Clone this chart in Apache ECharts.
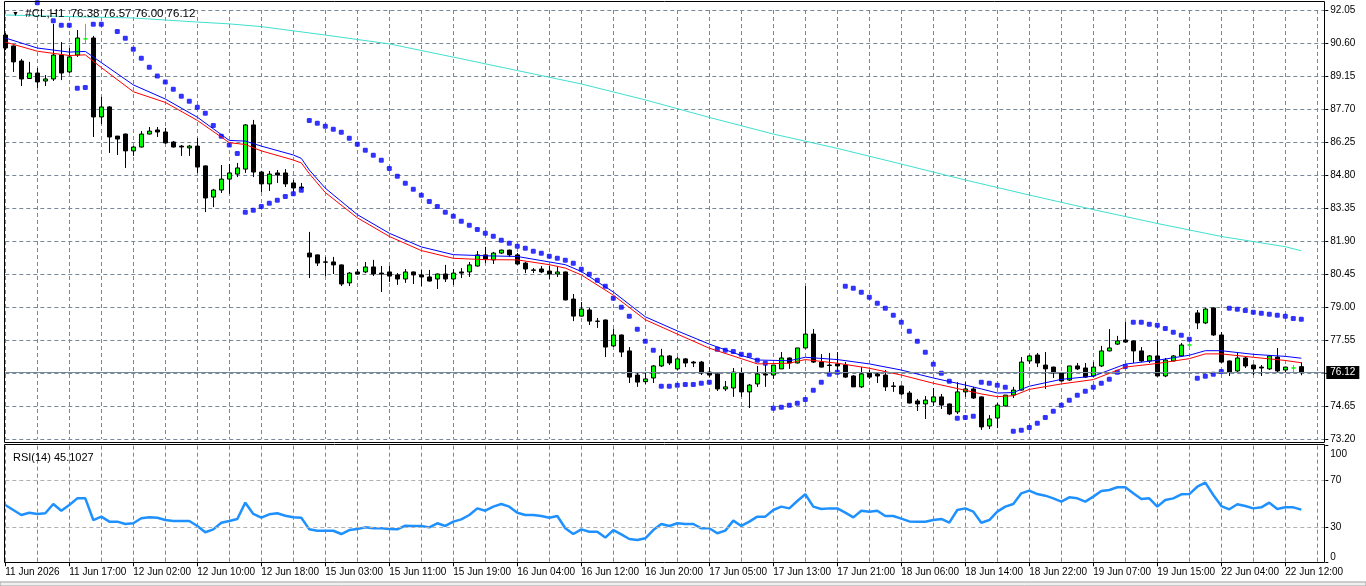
<!DOCTYPE html>
<html>
<head>
<meta charset="utf-8">
<title>#CL,H1</title>
<script src="https://cdn.jsdelivr.net/npm/echarts@6/dist/echarts.min.js"></script>
<style>
  html, body { margin: 0; padding: 0; background: #fff; }
  #chart-container { width: 1366px; height: 586px; }
</style>
</head>
<body>
<div id="chart-container"></div>
<script>
var myChart = echarts.init(document.getElementById('chart-container'), null, { renderer: 'canvas' });

// --- H1 bars, 11 Jun 2026 .. 22 Jun 2026 ---
const opens = [
  90.95,90.47,89.81,89.04,89.28,88.93,89.02,90.07,89.33,90.07,
  90.78,90.82,87.35,87.79,86.51,86.60,85.86,86.03,86.60,86.78,
  86.69,86.25,86.07,85.99,86.07,85.20,83.83,84.14,84.62,84.84,
  85.06,87.00,84.93,84.41,84.89,84.89,84.45,84.27,81.37,81.29,
  80.98,80.98,80.85,80.06,80.54,80.54,80.76,80.49,80.54,80.41,
  80.23,80.54,80.41,80.32,80.23,80.45,80.23,80.54,80.54,80.80,
  81.29,81.07,81.37,81.50,81.29,80.93,80.63,80.67,80.58,80.45,
  80.54,79.35,78.60,78.87,78.38,78.43,77.29,77.77,77.07,76.01,
  75.72,75.88,76.41,76.85,76.28,76.72,76.58,76.58,76.14,76.06,
  75.40,75.44,76.10,75.27,75.62,76.06,76.01,76.28,76.76,76.54,
  77.20,77.81,76.58,76.45,76.50,76.45,75.97,75.49,76.10,76.06,
  76.01,75.53,75.53,75.22,74.87,74.74,74.83,75.05,74.74,74.39,
  75.27,75.40,75.05,73.77,74.12,74.65,75.13,75.35,76.63,76.89,
  76.45,76.36,76.10,75.79,76.41,76.32,75.97,76.41,77.07,77.37,
  77.55,77.51,77.07,76.63,76.85,75.97,76.63,76.85,77.33,78.74,
  78.30,78.96,77.77,76.63,76.19,76.76,76.45,76.36,76.28,76.80,
  76.23,76.32,76.38
];
const highs = [
  91.04,90.49,89.90,89.77,89.50,89.19,91.44,90.64,90.38,91.17,
  91.44,90.91,88.23,87.83,86.51,86.62,86.07,86.73,86.91,86.91,
  86.87,86.29,86.12,86.12,86.43,85.22,84.19,85.24,85.28,85.33,
  87.04,87.22,84.98,84.98,85.02,85.06,84.58,84.45,82.30,81.31,
  81.20,81.20,80.87,80.54,80.67,80.98,81.07,80.80,80.80,80.49,
  80.67,80.56,80.63,80.63,80.47,80.85,80.67,80.71,80.98,81.46,
  81.64,81.42,81.52,81.52,81.37,80.98,80.71,80.80,80.80,80.76,
  80.56,79.57,79.22,78.96,78.52,78.45,78.03,77.79,77.24,76.14,
  76.10,76.45,77.16,76.89,76.80,76.76,76.63,76.63,76.36,76.08,
  75.75,76.32,76.32,75.62,76.41,76.45,76.45,77.02,76.78,77.20,
  79.92,78.03,76.93,76.98,77.02,76.58,76.01,76.36,76.23,76.10,
  76.23,75.70,75.55,75.31,74.96,75.09,75.44,75.18,74.76,75.70,
  75.70,75.49,75.07,74.25,74.78,75.13,75.49,76.80,76.89,76.98,
  77.02,76.38,76.12,76.41,76.54,76.54,76.58,77.29,78.03,77.73,
  78.34,77.53,77.24,76.89,77.51,76.76,76.89,77.42,77.46,78.87,
  78.96,78.98,77.90,76.65,76.98,76.80,76.47,76.45,76.89,77.20,
  76.38,76.45,76.57
];
const lows = [
  90.29,89.33,88.71,89.02,88.62,88.71,88.93,88.97,89.28,89.99,
  90.60,86.47,87.04,85.77,85.68,85.11,85.64,86.01,86.58,86.47,
  86.16,86.01,85.64,85.64,84.89,83.17,83.39,84.01,83.97,84.71,
  84.89,84.71,84.05,84.10,84.45,84.27,84.05,84.14,80.27,80.80,
  80.36,80.45,79.92,79.92,80.43,80.49,80.36,79.66,80.10,79.97,
  80.06,80.01,79.92,80.12,79.79,80.10,79.97,80.27,80.32,80.78,
  80.93,80.89,81.33,81.20,80.85,80.49,80.49,80.49,80.23,80.32,
  79.29,78.38,78.58,78.21,78.08,76.80,77.24,76.80,75.66,75.49,
  75.62,75.66,76.36,76.45,76.23,76.36,76.36,76.01,75.92,75.31,
  75.31,75.05,75.05,74.56,75.49,75.49,75.84,76.28,76.28,76.52,
  77.18,76.54,76.34,76.14,76.10,75.88,75.49,75.44,75.84,75.66,
  75.31,75.27,75.13,74.76,74.43,74.08,74.65,74.52,74.25,74.30,
  75.05,74.96,73.60,73.64,73.68,74.63,75.00,75.33,76.50,76.36,
  75.40,75.88,75.73,75.75,76.23,75.88,75.92,76.36,77.05,77.33,
  77.42,76.54,76.58,76.54,75.94,75.92,76.61,76.80,77.16,78.03,
  78.25,77.73,76.54,75.97,76.14,76.32,76.01,75.97,76.23,76.10,
  76.14,76.14,76.00
];
const closes = [
  90.38,89.77,89.02,89.28,88.89,89.02,90.07,89.28,89.99,90.82,
  90.78,87.35,87.79,86.47,86.38,85.86,86.03,86.60,86.73,86.69,
  86.21,86.03,86.03,86.07,85.15,83.79,84.14,84.62,84.89,85.11,
  87.00,84.93,84.41,84.84,84.80,84.41,84.23,84.23,81.20,80.93,
  80.97,80.85,80.01,80.49,80.45,80.76,80.45,80.45,80.36,80.23,
  80.54,80.41,80.32,80.14,80.45,80.23,80.49,80.49,80.85,81.29,
  81.11,81.37,81.50,81.29,80.89,80.67,80.61,80.54,80.45,80.54,
  79.31,78.60,78.91,78.38,78.37,77.24,77.77,77.02,75.92,75.70,
  75.84,76.41,76.85,76.54,76.72,76.54,76.54,76.10,76.01,75.40,
  75.49,76.14,75.27,75.57,76.06,76.01,76.45,76.76,76.54,77.20,
  77.81,76.58,76.36,76.43,76.41,75.92,75.49,76.06,75.92,75.97,
  75.49,75.51,75.18,74.78,74.74,74.91,75.05,74.69,74.30,75.27,
  75.40,75.00,73.73,74.08,74.69,75.13,75.35,76.58,76.85,76.54,
  76.28,76.10,75.75,76.41,76.28,75.92,76.36,77.07,77.20,77.51,
  77.46,77.07,76.63,76.85,75.97,76.67,76.85,77.33,77.33,78.30,
  78.91,77.77,76.58,76.14,76.76,76.41,76.28,76.32,76.85,76.19,
  76.36,76.32,76.12
];

// Parabolic SAR, one per bar (null = not visible)
const sar = [
  null,null,null,null,92.37,null,91.58,91.38,91.38,88.61,
  88.65,91.42,91.42,null,91.11,90.81,90.32,89.93,89.53,89.15,
  88.89,88.57,88.26,88.04,87.78,87.51,86.98,86.50,86.12,85.75,
  83.16,83.25,83.42,83.56,83.69,83.86,83.98,84.13,87.20,87.07,
  86.94,86.81,86.68,86.41,86.15,85.89,85.67,85.45,85.09,84.74,
  84.44,84.17,83.91,83.64,83.42,83.16,82.99,82.77,82.59,82.41,
  82.24,82.11,81.93,81.80,81.67,81.58,81.45,81.36,81.23,81.14,
  81.05,80.92,80.66,80.44,80.17,79.91,79.38,78.99,78.59,78.02,
  77.49,77.10,75.52,75.52,75.56,75.60,75.60,75.65,75.69,77.14,
  77.10,77.05,76.92,76.88,76.66,76.53,74.55,74.59,74.68,74.77,
  74.94,75.34,75.69,76.04,76.13,79.91,79.82,79.65,79.43,79.16,
  78.94,78.64,78.33,77.93,77.49,77.01,76.48,76.09,75.74,74.11,
  74.15,74.20,75.69,75.65,75.56,75.47,73.54,73.58,73.71,73.89,
  74.15,74.42,74.68,74.90,75.12,75.30,75.47,75.65,75.82,76.13,
  76.39,78.33,78.33,78.24,78.20,78.06,77.89,77.76,77.58,75.87,
  75.96,76.04,76.17,78.94,78.90,78.85,78.77,78.72,78.68,78.64,
  78.59,78.50,78.46
];

// moving averages, read at [bar, value]
const maBlue = [
  [0,90.82],[4,90.38],[8,90.20],[10,90.23],[12,89.74],[16,88.76],[20,88.14],[24,87.34],
  [28,86.32],[30,86.29],[32,86.07],[36,85.68],[37,85.53],[38,85.02],[40,84.22],[44,83.06],
  [48,82.24],[52,81.64],[56,81.30],[60,81.25],[64,81.22],[68,80.98],[70,80.86],[72,80.56],
  [76,79.66],[80,78.57],[84,77.95],[88,77.37],[92,76.87],[94,76.67],[98,76.64],[100,76.79],
  [104,76.69],[108,76.50],[112,76.23],[116,75.88],[120,75.57],[122,75.40],[124,75.22],[126,75.24],
  [128,75.52],[132,75.82],[136,75.96],[140,76.49],[144,76.66],[148,76.88],[150,77.08],[152,77.08],
  [156,76.92],[160,76.83],[162,76.75]
];
const maRed = [
  [0,90.64],[4,90.24],[8,90.05],[10,90.08],[12,89.52],[16,88.46],[20,87.99],[24,87.20],
  [28,86.22],[30,86.14],[32,85.86],[36,85.46],[37,85.33],[38,84.86],[40,84.03],[44,82.92],
  [48,82.10],[52,81.48],[56,81.14],[60,81.08],[64,81.07],[68,80.86],[70,80.71],[72,80.41],
  [76,79.52],[80,78.44],[84,77.81],[88,77.19],[92,76.73],[94,76.50],[98,76.53],[100,76.69],
  [104,76.53],[108,76.31],[112,76.01],[116,75.65],[120,75.34],[122,75.18],[124,75.06],[126,75.10],
  [128,75.38],[132,75.62],[136,75.81],[140,76.36],[144,76.52],[148,76.73],[150,76.94],[152,76.94],
  [156,76.79],[160,76.65],[162,76.55]
];
const maSlow = [
  [0,91.83],[8,91.76],[16,91.70],[24,91.52],[28,91.44],[32,91.32],[40,90.95],[48,90.56],
  [56,89.98],[64,89.39],[72,88.80],[80,88.10],[88,87.33],[96,86.60],[104,85.97],[112,85.28],
  [120,84.58],[128,83.92],[136,83.28],[144,82.67],[152,82.10],[160,81.65],[162,81.47]
];

// RSI(14)
const rsi = [
  49.1,44.8,40.5,42.5,41.4,42.0,50.0,44.2,49.1,54.8,
  54.8,36.2,39.1,34.8,34.8,32.8,33.4,37.7,38.5,38.2,
  36.2,35.4,35.4,35.4,31.1,25.7,28.2,33.9,35.4,37.1,
  51.1,41.4,38.2,41.1,42.0,39.9,38.5,38.2,28.2,27.0,
  27.0,27.0,24.2,27.6,28.5,29.9,29.1,29.1,28.5,28.2,
  31.3,31.1,31.1,29.9,33.4,31.1,34.8,36.8,40.5,46.2,
  44.2,47.7,50.0,47.7,42.5,40.5,40.5,39.7,38.2,39.7,
  29.1,24.2,28.2,26.2,26.2,21.1,27.6,23.9,19.9,19.1,
  20.5,27.6,32.8,31.1,33.4,32.8,32.8,29.1,29.1,24.8,
  27.1,35.7,31.1,34.8,39.1,39.1,44.8,47.7,46.2,52.5,
  58.3,47.7,45.7,46.2,46.2,42.5,38.5,44.2,43.4,44.2,
  39.7,39.7,37.4,35.0,34.8,34.8,36.2,37.1,33.9,44.8,
  46.2,43.4,33.9,36.2,43.4,47.7,50.0,59.1,61.4,58.5,
  57.1,54.8,52.0,55.7,54.8,52.0,56.3,61.1,62.0,64.3,
  64.3,59.1,54.2,54.8,47.7,53.4,54.8,58.3,58.5,64.8,
  68.3,57.7,48.2,45.4,49.7,48.2,46.2,47.1,51.1,45.7,
  47.1,47.1,45.1027
];
const rsiLevels = [30, 70];

const timeLabels = [
  '11 Jun 2026', '11 Jun 17:00', '12 Jun 02:00', '12 Jun 10:00', '12 Jun 18:00',
  '15 Jun 03:00', '15 Jun 11:00', '15 Jun 19:00', '16 Jun 04:00', '16 Jun 12:00',
  '16 Jun 20:00', '17 Jun 05:00', '17 Jun 13:00', '17 Jun 21:00', '18 Jun 06:00',
  '18 Jun 14:00', '18 Jun 22:00', '19 Jun 07:00', '19 Jun 15:00', '22 Jun 04:00',
  '22 Jun 12:00'
];
const priceTicks = { min: 73.20, max: 92.05, step: 1.45 };
const rsiTicks = [0, 30, 70, 100];

const barsTotal = 166;   // 163 bars + chart shift on the right
const labelEvery = 8;

// --- build series data ---
const categories = [];
for (let i = 0; i < barsTotal; i++) categories.push(String(i));

const candleData = opens.map(function (o, i) {
  const item = { value: [o, closes[i], lows[i], highs[i]] };
  if (o === closes[i]) {
    item.itemStyle = { color: '#00ff00', color0: '#00ff00', borderColor: '#00ff00', borderColor0: '#00ff00' };
  }
  return item;
});
const sarData = sar.map(function (v) { return v == null ? '-' : v; });

const last = opens.length - 1;
const headText = '{tri|\u25BC}  #CL,H1  ' + opens[last].toFixed(2) + ' ' + highs[last].toFixed(2) + ' ' +
  lows[last].toFixed(2) + ' ' + closes[last].toFixed(2);
const rsiText = 'RSI(14) ' + rsi[last].toFixed(4);

const FONT = '"Liberation Sans", Arial, sans-serif';
const GRID_COLOR = '#778899';
const dash = [4, 3];

const option = {
  animation: false,
  backgroundColor: '#ffffff',
  title: [
    {
      text: headText, left: 7, top: 3,
      textStyle: { fontFamily: FONT, fontSize: 11.5, fontWeight: 'normal', color: '#000',
        rich: { tri: { fontSize: 7, color: '#000' } } }
    },
    {
      text: rsiText, left: 8, top: 447,
      textStyle: { fontFamily: FONT, fontSize: 11, fontWeight: 'normal', color: '#000' }
    }
  ],
  grid: [
    { left: 5.3, top: 10, width: 1320, height: 429 },
    { left: 5.3, top: 445.7, width: 1320, height: 116.5 }
  ],
  xAxis: [
    {
      type: 'category', gridIndex: 0, data: categories, boundaryGap: false,
      axisLine: { show: false }, axisTick: { show: false }, axisLabel: { show: false },
      splitLine: { show: true, interval: 3, lineStyle: { color: GRID_COLOR, type: dash, width: 1 } }
    },
    {
      type: 'category', gridIndex: 1, data: categories, boundaryGap: false,
      axisLine: { show: false },
      axisTick: { show: true, interval: labelEvery - 1, length: 4, lineStyle: { color: '#000' } },
      axisLabel: {
        interval: labelEvery - 1, align: 'left', margin: 5,
        fontFamily: FONT, fontSize: 10, color: '#000',
        formatter: function (v, i) { return timeLabels[i / labelEvery] || ''; }
      },
      splitLine: { show: true, interval: 3, lineStyle: { color: GRID_COLOR, type: dash, width: 1 } }
    }
  ],
  yAxis: [
    {
      type: 'value', gridIndex: 0, position: 'right', scale: true,
      min: priceTicks.min, max: priceTicks.max, interval: priceTicks.step,
      axisLine: { show: false },
      axisTick: { show: true, length: 3, lineStyle: { color: '#000' } },
      axisLabel: { margin: 5, fontFamily: FONT, fontSize: 10, color: '#000',
        formatter: function (v) { return v.toFixed(2); } },
      splitLine: { show: true, lineStyle: { color: GRID_COLOR, type: dash, width: 1 } }
    },
    {
      type: 'value', gridIndex: 1, position: 'right', min: 0, max: 100,
      axisLine: { show: false },
      axisTick: { show: true, length: 3, customValues: rsiTicks, lineStyle: { color: '#000' } },
      axisLabel: {
        margin: 5, fontFamily: FONT, fontSize: 10, color: '#000', customValues: rsiTicks,
        verticalAlignMaxLabel: 'top', verticalAlignMinLabel: 'bottom',
        formatter: function (v) { return v === 100 ? '{top|100}' : String(v); },
        rich: { top: { fontFamily: FONT, fontSize: 10, color: '#000', padding: [4, 0, 0, 0] } }
      },
      splitLine: { show: false }
    }
  ],
  graphic: [
    { type: 'rect', shape: { x: 4.5, y: 1.5, width: 1320, height: 441 }, silent: true, z: 50,
      style: { fill: null, stroke: '#000', lineWidth: 1 } },
    { type: 'rect', shape: { x: 4.5, y: 444.5, width: 1320, height: 118 }, silent: true, z: 50,
      style: { fill: null, stroke: '#000', lineWidth: 1 } },
    { type: 'rect', shape: { x: 0, y: 582, width: 1366, height: 4 }, silent: true, z: 50,
      style: { fill: '#f0f0f0', stroke: '#a0a0a0', lineWidth: 1 } }
  ],
  series: [
    {
      name: '#CL,H1', type: 'candlestick', xAxisIndex: 0, yAxisIndex: 0,
      data: candleData, barWidth: 4, clip: false,
      itemStyle: { color: '#00ff00', color0: '#000000', borderColor: '#000000', borderColor0: '#000000', borderWidth: 1 },
      markLine: {
        silent: true, symbol: 'none', animation: false,
        lineStyle: { color: GRID_COLOR, type: 'solid', width: 1 },
        label: {
          position: 'end', distance: 1, formatter: closes[last].toFixed(2),
          backgroundColor: '#000', color: '#fff', padding: [2, 4, 1, 4],
          fontFamily: FONT, fontSize: 10
        },
        data: [{ yAxis: closes[last] }]
      }
    },
    {
      name: 'MA slow', type: 'line', xAxisIndex: 0, yAxisIndex: 0, data: maSlow,
      showSymbol: false, clip: false, lineStyle: { color: '#40e0d0', width: 1 }
    },
    {
      name: 'MA blue', type: 'line', xAxisIndex: 0, yAxisIndex: 0, data: maBlue,
      showSymbol: false, clip: false, lineStyle: { color: '#0000ff', width: 1 }
    },
    {
      name: 'MA red', type: 'line', xAxisIndex: 0, yAxisIndex: 0, data: maRed,
      showSymbol: false, clip: false, lineStyle: { color: '#ff0000', width: 1 }
    },
    {
      name: 'SAR', type: 'scatter', xAxisIndex: 0, yAxisIndex: 0, data: sarData,
      symbol: 'roundRect', symbolSize: 5, clip: false,
      itemStyle: { color: '#0000ff' }
    },
    {
      name: 'RSI(14)', type: 'line', xAxisIndex: 1, yAxisIndex: 1, data: rsi,
      showSymbol: false, lineStyle: { color: '#1e90ff', width: 2.5 },
      markLine: {
        silent: true, symbol: 'none', animation: false, label: { show: false },
        lineStyle: { color: '#b0b0b0', type: dash, width: 1 },
        data: rsiLevels.map(function (v) { return { yAxis: v }; })
      }
    }
  ]
};

myChart.setOption(option);

window.addEventListener('resize', function () {
  myChart.resize();
});
</script>
</body>
</html>
